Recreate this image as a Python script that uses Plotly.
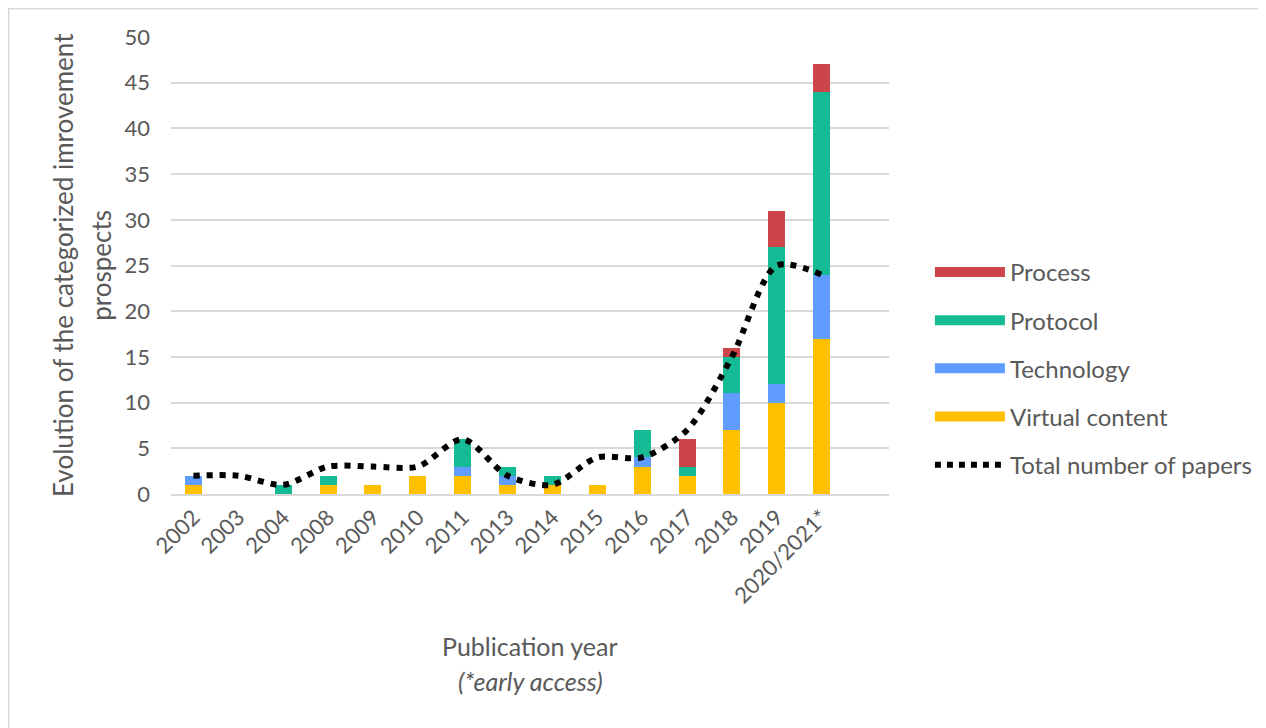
import plotly.graph_objects as go

years = ["2002", "2003", "2004", "2008", "2009", "2010", "2011", "2013", "2014",
         "2015", "2016", "2017", "2018", "2019", "2020/2021*"]
virtual_content = [1, 0, 0, 1, 1, 2, 2, 1, 1, 1, 3, 2, 7, 10, 17]
technology      = [1, 0, 0, 0, 0, 0, 1, 1, 0, 0, 1, 0, 4, 2, 7]
protocol        = [0, 0, 1, 1, 0, 0, 3, 1, 1, 0, 3, 1, 4, 15, 20]
process         = [0, 0, 0, 0, 0, 0, 0, 0, 0, 0, 0, 3, 1, 4, 3]
total_papers    = [2, 2, 1, 3, 3, 3, 6, 2, 1, 4, 4, 7, 15, 25, 24]

colors = {"Virtual content": "#FFC000", "Technology": "#619CFF",
          "Protocol": "#16BB95", "Process": "#CD444A"}

font_family = "Lato, Open Sans, sans-serif"
grey = "#595959"

fig = go.Figure()
xs = list(range(len(years)))
for name, vals in [("Virtual content", virtual_content), ("Technology", technology),
                   ("Protocol", protocol), ("Process", process)]:
    fig.add_trace(go.Bar(x=xs, y=vals, name=name, marker_color=colors[name],
                         marker_line_width=0, width=0.38, showlegend=False))

fig.add_trace(go.Scatter(x=xs, y=total_papers, mode="lines", name="Total number of papers",
                         line=dict(color="black", width=6, shape="spline", smoothing=0.8,
                                   dash="6px,7px"), showlegend=False))

# legend entries (wide swatches)
for name in ["Process", "Protocol", "Technology", "Virtual content"]:
    fig.add_trace(go.Scatter(x=[None], y=[None], mode="lines", name=name, legendgroup=name,
                             line=dict(color=colors[name], width=14)))
fig.add_trace(go.Scatter(x=[None], y=[None], mode="lines", name="Total number of papers",
                         legendgroup="total",
                         line=dict(color="black", width=6, dash="6px,6px")))

fig.update_layout(
    width=1266, height=728,
    margin=dict(l=163, r=385, t=29, b=242),
    paper_bgcolor="white", plot_bgcolor="white",
    barmode="stack",
    font=dict(family=font_family, color=grey, size=20),
    legend=dict(x=1.057, y=0.275, yanchor="middle", xanchor="left",
                font=dict(size=24, color=grey), itemwidth=70,
                tracegroupgap=14, traceorder="grouped"),
    xaxis=dict(range=[-0.5, 15.5], tickmode="array", tickvals=xs, ticktext=years,
               tickangle=-45, tickfont=dict(size=22, color=grey),
               showgrid=False, showline=True, linecolor="#D9D9D9", linewidth=1.5,
               ticks="", zeroline=False),
    yaxis=dict(range=[0, 50], dtick=5, tickfont=dict(size=22, color=grey),
               showgrid=True, gridcolor="#D9D9D9", gridwidth=1.5, zeroline=False,
               ticks="", ticklabelstandoff=20),
    annotations=[
        dict(text="Evolution of the categorized imrovement", xref="paper", yref="paper",
             x=-0.151, y=0.5, textangle=-90, showarrow=False,
             font=dict(size=26, color=grey), xanchor="center", yanchor="middle"),
        dict(text="prospects", xref="paper", yref="paper",
             x=-0.0985, y=0.5, textangle=-90, showarrow=False,
             font=dict(size=26, color=grey), xanchor="center", yanchor="middle"),
        dict(text="Publication year", xref="paper", yref="paper",
             x=0.5, y=-0.333, showarrow=False, font=dict(size=25, color=grey),
             xanchor="center", yanchor="middle"),
        dict(text="<i>(*early access)</i>", xref="paper", yref="paper",
             x=0.5, y=-0.409, showarrow=False, font=dict(size=25, color=grey),
             xanchor="center", yanchor="middle"),
    ],
    shapes=[dict(type="rect", xref="paper", yref="paper", x0=-0.226, x1=1.6, y0=-0.6, y1=1.062,
                 line=dict(color="#D9D9D9", width=1.5))],
)

fig.write_html("out.html")
